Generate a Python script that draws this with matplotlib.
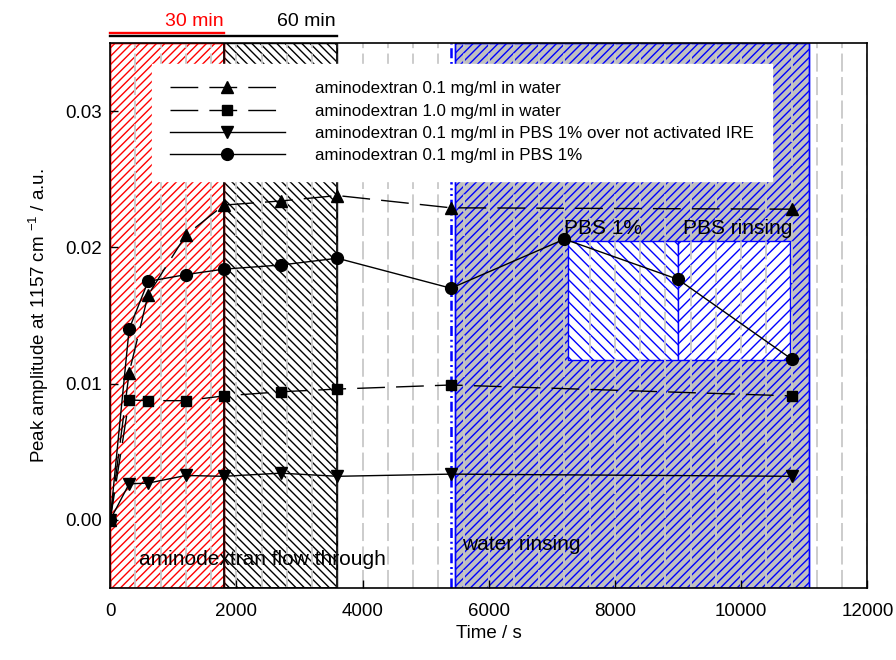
import numpy as np
import matplotlib
matplotlib.use("Agg")
import matplotlib.pyplot as plt
from matplotlib.patches import Rectangle
from matplotlib.ticker import MultipleLocator, FormatStrFormatter

plt.rcParams['font.family'] = ['Liberation Sans', 'DejaVu Sans']
plt.rcParams['mathtext.fontset'] = 'custom'
plt.rcParams['mathtext.rm'] = 'Liberation Sans'
plt.rcParams['mathtext.it'] = 'Liberation Sans:italic'
plt.rcParams['hatch.linewidth'] = 1.0

# time points (s) and peak amplitudes
t_water = [0, 300, 600, 1200, 1800, 2700, 3600, 5400, 10800]
water_01 = [0, 0.0108, 0.0165, 0.0209, 0.0231, 0.0234, 0.0238, 0.0229, 0.0228]
water_10 = [0, 0.0088, 0.00875, 0.00875, 0.0091, 0.0094, 0.0096, 0.0099, 0.0091]
t_pbs_na = [0, 300, 600, 1200, 1800, 2700, 3600, 5400, 10800]
pbs_not_act = [0, 0.00265, 0.0027, 0.00326, 0.0032, 0.00343, 0.0032, 0.00336, 0.0032]
t_pbs = [0, 300, 600, 1200, 1800, 2700, 3600, 5400, 7200, 9000, 10800]
pbs_01 = [0, 0.0140, 0.0175, 0.0180, 0.0184, 0.0187, 0.0192, 0.0170, 0.0206, 0.01765, 0.0118]

labels = ["aminodextran 0.1 mg/ml in water",
          "aminodextran 1.0 mg/ml in water",
          "aminodextran 0.1 mg/ml in PBS 1% over not activated IRE",
          "aminodextran 0.1 mg/ml in PBS 1%"]

# phases (s)
flow_30 = (0, 1800)
flow_60 = (1800, 3600)
rinse_start = 5400
water_rinse = (5470, 11070)
pbs_box = (7250, 9000)
pbs_rinse_box = (9000, 10780)
box_y = (0.0117, 0.0205)

fig = plt.figure(figsize=(8.96, 6.6), dpi=100)
ax = fig.add_axes([0.123, 0.109, 0.845, 0.826])

ax.axvspan(*flow_30, facecolor='white', edgecolor='red', hatch='////', lw=1, zorder=1)
ax.axvspan(*flow_60, facecolor='white', edgecolor='black', hatch='\\' * 4, lw=1, zorder=1)
ax.axvspan(*water_rinse, facecolor='#c0c0c0', edgecolor='blue', hatch='////', lw=1, zorder=1)
# outlines drawn again above the grid
ax.axvspan(*flow_30, facecolor='none', edgecolor='red', lw=1, zorder=1.7)
ax.axvspan(*flow_60, facecolor='none', edgecolor='black', lw=1.2, zorder=1.7)
ax.axvspan(*water_rinse, facecolor='none', edgecolor='blue', lw=1, zorder=1.7)
ax.add_patch(Rectangle((pbs_box[0], box_y[0]), pbs_box[1] - pbs_box[0], box_y[1] - box_y[0],
                       facecolor='white', edgecolor='blue', hatch='\\' * 3, lw=1, zorder=1.2))
ax.add_patch(Rectangle((pbs_rinse_box[0], box_y[0]), pbs_rinse_box[1] - pbs_rinse_box[0],
                       box_y[1] - box_y[0], facecolor='white', edgecolor='blue', hatch='///',
                       lw=1, zorder=1.2))
ax.axvline(rinse_start, color='blue', lw=1.8, ls=(0, (4, 1.5, 0.8, 1.5, 0.8, 1.5)), zorder=1.6)

dash = (0, (20, 8))
ax.plot(t_water, water_01, color='black', lw=1.0, ls=dash, marker='^', ms=8.5, label=labels[0])
ax.plot(t_water, water_10, color='black', lw=1.0, ls=dash, marker='s', ms=7, label=labels[1])
ax.plot(t_pbs_na, pbs_not_act, color='black', lw=1.0, marker='v', ms=8.5, label=labels[2])
ax.plot(t_pbs, pbs_01, color='black', lw=1.0, marker='o', ms=8.5, label=labels[3])

ax.set_xlim(0, 12000)
ax.set_ylim(-0.005, 0.035)
ax.xaxis.set_major_locator(MultipleLocator(2000))
ax.xaxis.set_minor_locator(MultipleLocator(400))
ax.yaxis.set_major_locator(MultipleLocator(0.01))
ax.yaxis.set_major_formatter(FormatStrFormatter('%.2f'))
ax.tick_params(which='major', direction='in', length=6, width=1, labelsize=13.5)
ax.tick_params(axis='x', pad=11)
ax.tick_params(axis='y', pad=6)
ax.tick_params(which='minor', length=0)
ax.xaxis.grid(True, which='both', color='#c8c8c8', lw=1.3, ls=(0, (10, 3)))
for s in ax.spines.values():
    s.set_linewidth(1.2)
    s.set_zorder(5)

ax.set_xlabel("Time / s", fontsize=13.5, labelpad=3)
ax.set_ylabel("Peak amplitude at 1157 cm $^{-1}$ / a.u.", fontsize=13.5, labelpad=10)

ax.text(460, -0.0029, "aminodextran flow through", fontsize=15, va='center', ha='left')
ax.text(5570, -0.0018, "water rinsing", fontsize=15, va='center', ha='left')
ax.text(7200, 0.0214, "PBS 1%", fontsize=15, va='center', ha='left')
ax.text(9080, 0.0214, "PBS rinsing", fontsize=15, va='center', ha='left')

# time markers above the plot
trans = ax.get_xaxis_transform()
ax.plot([0, 1800], [1.019, 1.019], color='red', lw=1.7, transform=trans, clip_on=False)
ax.plot([0, 3600], [1.012, 1.012], color='black', lw=1.7, transform=trans, clip_on=False)
ax.text(1790, 1.040, "30 min", color='red', fontsize=14, ha='right', va='center', transform=trans)
ax.text(3570, 1.040, "60 min", color='black', fontsize=14, ha='right', va='center', transform=trans)

leg = ax.legend(loc='upper left', bbox_to_anchor=(0.055, 0.962), borderaxespad=0,
                fontsize=12.2, handlelength=6.8, handletextpad=1.8, labelspacing=0.42,
                borderpad=1.05, numpoints=1, fancybox=False, framealpha=1,
                edgecolor='white')
leg.set_zorder(10)

fig.savefig("out.png", dpi=100)
